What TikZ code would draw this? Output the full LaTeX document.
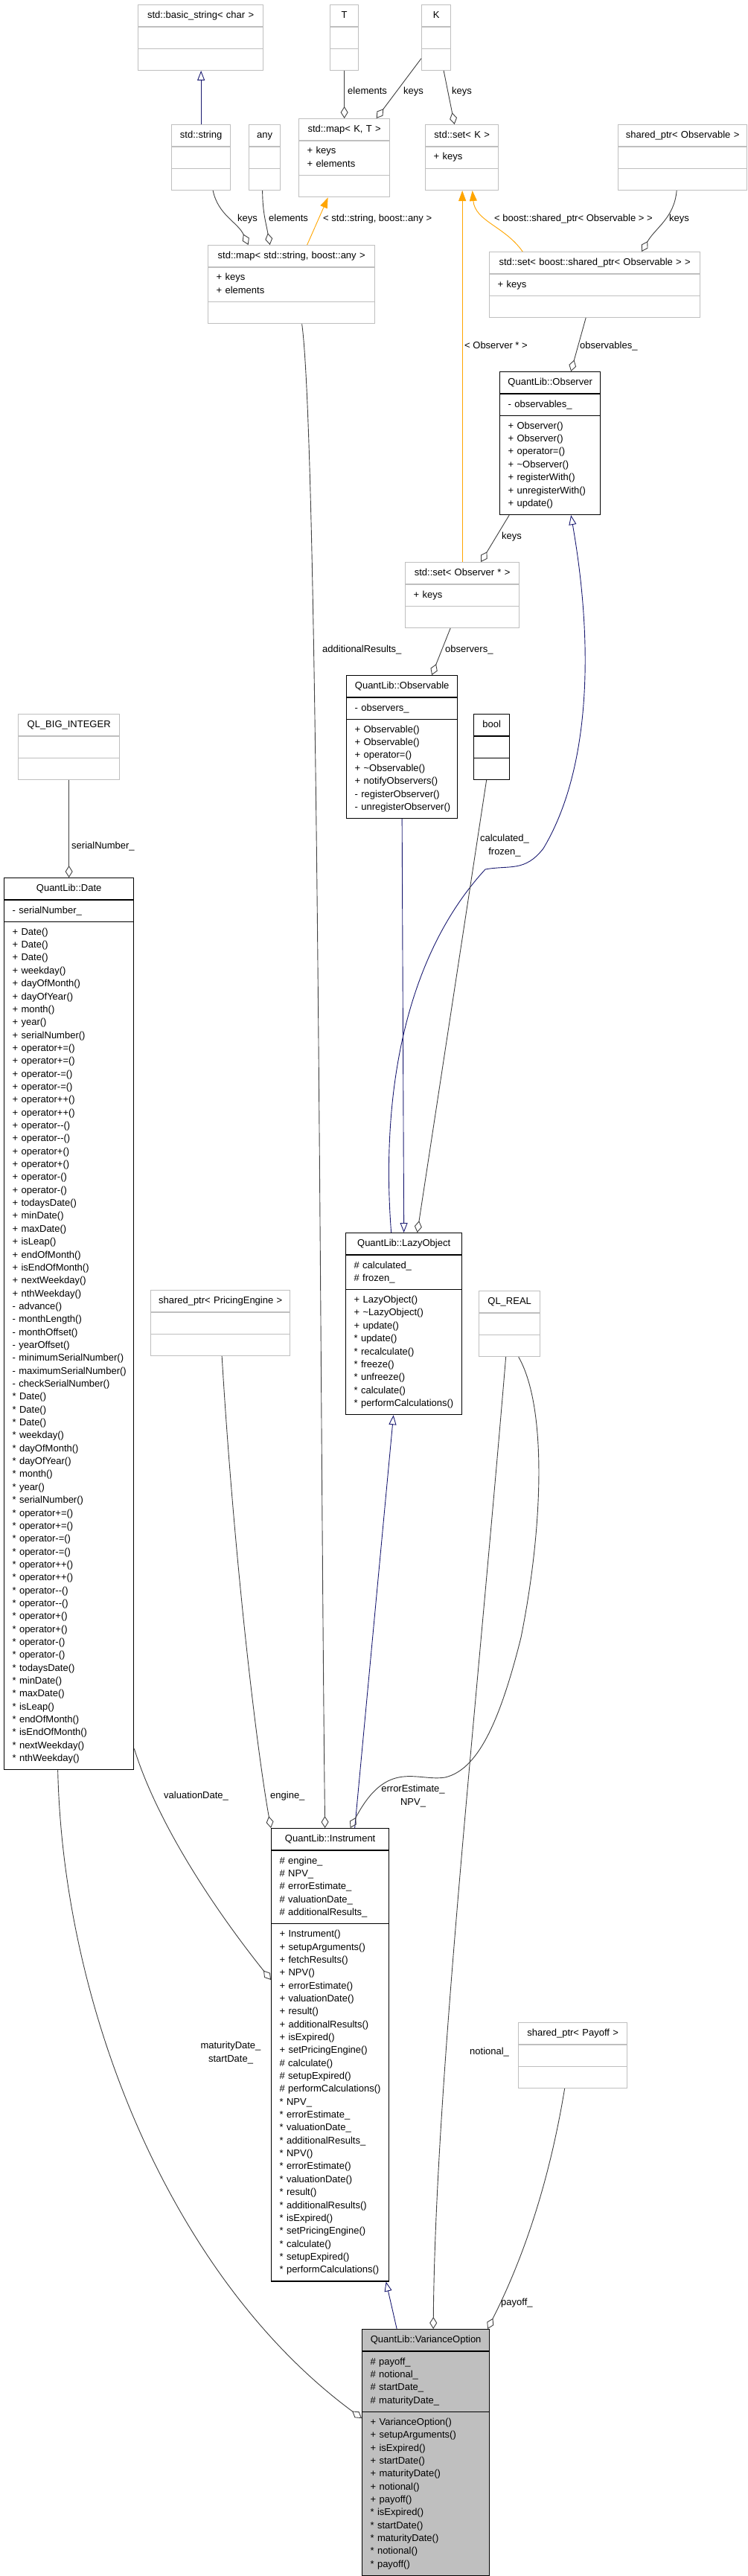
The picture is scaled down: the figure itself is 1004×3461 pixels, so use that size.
\documentclass[tikz,border=0pt]{standalone}
\usepackage{fontspec}
\setmainfont{Liberation Sans}
\usetikzlibrary{shapes.multipart, arrows.meta}
\setlength{\parindent}{0pt}

\definecolor{edgegray}{HTML}{404040}
\definecolor{inhblue}{HTML}{191970}
\definecolor{tmplorange}{HTML}{FFA500}
\definecolor{boxgray}{HTML}{BFBFBF}
\definecolor{fillgray}{HTML}{BFBFBF}

% class box parts
\newcommand\ctitle[1]{\centering\strut\mbox{#1}\par}
\newcommand\cmembers[1]{\leftskip=11pt\relax\rightskip=0pt plus 1fil\relax\strut#1\strut\par}
\newcommand\nextm{\\\relax}
\newcommand\datemethods[1]{#1 Date()\nextm #1 Date()\nextm #1 Date()\nextm #1 weekday()\nextm
  #1 dayOfMonth()\nextm #1 dayOfYear()\nextm #1 month()\nextm #1 year()\nextm #1 serialNumber()\nextm
  #1 operator+=()\nextm #1 operator+=()\nextm #1 operator-=()\nextm #1 operator-=()\nextm
  #1 operator++()\nextm #1 operator++()\nextm #1 operator-{}-()\nextm #1 operator-{}-()\nextm
  #1 operator+()\nextm #1 operator+()\nextm #1 operator-()\nextm #1 operator-()\nextm
  #1 todaysDate()\nextm #1 minDate()\nextm #1 maxDate()\nextm #1 isLeap()\nextm #1 endOfMonth()\nextm
  #1 isEndOfMonth()\nextm #1 nextWeekday()\nextm #1 nthWeekday()}

\begin{document}
\begin{tikzpicture}[x=1pt, y=-1pt,
    font=\fontsize{13pt}{17.35pt}\selectfont,
    cls/.style={rectangle split, rectangle split parts=3, anchor=north west,
      inner xsep=0pt, inner ysep=5.3pt, line width=1.3pt},
    extcls/.style={cls, draw=boxgray},
    qlcls/.style={cls, draw=black},
    agg/.style={draw=edgegray, line width=0.9pt, -{Diamond[open, length=16pt, width=10pt]}},
    inh/.style={draw=inhblue, line width=0.9pt, -{Triangle[open, length=13pt, width=10pt]}},
    tmpl/.style={draw=tmplorange, line width=0.9pt, -{Triangle[length=14pt, width=10pt]}},
    lbl/.style={inner sep=0pt, anchor=west, text height=9.4pt, text depth=2.7pt},
    lbl2/.style={inner sep=0pt, align=center}]

  \useasboundingbox (0,0) rectangle (1004,3461);

  % top row
  \node[extcls, text width=168pt] (basic) at (185,6)
    {\ctitle{std::basic\_string< char >}\nodepart{two}\strut\nodepart{three}\strut};
  \node[extcls, text width=38pt] (T) at (443,6)
    {\ctitle{T}\nodepart{two}\strut\nodepart{three}\strut};
  \node[extcls, text width=39pt] (K) at (566,6)
    {\ctitle{K}\nodepart{two}\strut\nodepart{three}\strut};

  \node[extcls, text width=79pt] (string) at (230,167)
    {\ctitle{std::string}\nodepart{two}\strut\nodepart{three}\strut};
  \node[extcls, text width=42pt] (any) at (334,167)
    {\ctitle{any}\nodepart{two}\strut\nodepart{three}\strut};
  \node[extcls, text width=122pt] (mapKT) at (401,159)
    {\ctitle{std::map< K, T >}\nodepart{two}\cmembers{+ keys\nextm + elements}\nodepart{three}\strut};
  \node[extcls, text width=98pt] (setK) at (571,167)
    {\ctitle{std::set< K >}\nodepart{two}\cmembers{+ keys}\nodepart{three}\strut};
  \node[extcls, text width=173pt] (spObs) at (830,167)
    {\ctitle{shared\_ptr< Observable >}\nodepart{two}\strut\nodepart{three}\strut};

  \node[extcls, text width=224pt] (mapSA) at (279,329)
    {\ctitle{std::map< std::string, boost::any >}\nodepart{two}\cmembers{+ keys\nextm + elements}\nodepart{three}\strut};
  \node[extcls, text width=283pt] (setSP) at (657,338)
    {\ctitle{std::set< boost::shared\_ptr< Observable > >}\nodepart{two}\cmembers{+ keys}\nodepart{three}\strut};

  \node[qlcls, text width=135pt] (observer) at (671,499)
    {\ctitle{QuantLib::Observer}\nodepart{two}\cmembers{- observables\_}
     \nodepart{three}\cmembers{+ Observer()\nextm + Observer()\nextm + operator=()\nextm
       + \textasciitilde Observer()\nextm + registerWith()\nextm + unregisterWith()\nextm + update()}};
  \node[extcls, text width=153pt] (setObs) at (544,755)
    {\ctitle{std::set< Observer * >}\nodepart{two}\cmembers{+ keys}\nodepart{three}\strut};

  \node[qlcls, text width=149pt] (observable) at (465,907)
    {\ctitle{QuantLib::Observable}\nodepart{two}\cmembers{- observers\_}
     \nodepart{three}\cmembers{+ Observable()\nextm + Observable()\nextm + operator=()\nextm
       + \textasciitilde Observable()\nextm + notifyObservers()\nextm - registerObserver()\nextm
       - unregisterObserver()}};
  \node[qlcls, text width=48pt] (bool) at (636,959)
    {\ctitle{bool}\nodepart{two}\strut\nodepart{three}\strut};
  \node[extcls, text width=136pt] (qlbig) at (24,959)
    {\ctitle{QL\_BIG\_INTEGER}\nodepart{two}\strut\nodepart{three}\strut};

  \node[qlcls, text width=174pt] (date) at (5,1179)
    {\ctitle{QuantLib::Date}\nodepart{two}\cmembers{- serialNumber\_}
     \nodepart{three}\cmembers{\datemethods{+}\nextm - advance()\nextm - monthLength()\nextm
       - monthOffset()\nextm - yearOffset()\nextm - minimumSerialNumber()\nextm
       - maximumSerialNumber()\nextm - checkSerialNumber()\nextm \datemethods{*}}};

  \node[qlcls, text width=156pt] (lazy) at (464,1656)
    {\ctitle{QuantLib::LazyObject}\nodepart{two}\cmembers{\# calculated\_\nextm \# frozen\_}
     \nodepart{three}\cmembers{+ LazyObject()\nextm + \textasciitilde LazyObject()\nextm + update()\nextm
       * update()\nextm * recalculate()\nextm * freeze()\nextm * unfreeze()\nextm * calculate()\nextm
       * performCalculations()}};
  \node[extcls, text width=187pt] (engine) at (202,1733)
    {\ctitle{shared\_ptr< PricingEngine >}\nodepart{two}\strut\nodepart{three}\strut};
  \node[extcls, text width=82pt] (qlreal) at (643,1734)
    {\ctitle{QL\_REAL}\nodepart{two}\strut\nodepart{three}\strut};

  \node[qlcls, text width=158pt] (inst) at (364,2456)
    {\ctitle{QuantLib::Instrument}
     \nodepart{two}\cmembers{\# engine\_\nextm \# NPV\_\nextm \# errorEstimate\_\nextm
       \# valuationDate\_\nextm \# additionalResults\_}
     \nodepart{three}\cmembers{+ Instrument()\nextm + setupArguments()\nextm + fetchResults()\nextm
       + NPV()\nextm + errorEstimate()\nextm + valuationDate()\nextm + result()\nextm
       + additionalResults()\nextm + isExpired()\nextm + setPricingEngine()\nextm
       \# calculate()\nextm \# setupExpired()\nextm \# performCalculations()\nextm
       * NPV\_\nextm * errorEstimate\_\nextm * valuationDate\_\nextm * additionalResults\_\nextm
       * NPV()\nextm * errorEstimate()\nextm * valuationDate()\nextm * result()\nextm
       * additionalResults()\nextm * isExpired()\nextm * setPricingEngine()\nextm
       * calculate()\nextm * setupExpired()\nextm * performCalculations()}};
  \node[extcls, text width=146pt] (payoff) at (696,2717)
    {\ctitle{shared\_ptr< Payoff >}\nodepart{two}\strut\nodepart{three}\strut};

  \node[qlcls, fill=fillgray, text width=171pt] (varopt) at (486,3129)
    {\ctitle{QuantLib::VarianceOption}
     \nodepart{two}\cmembers{\# payoff\_\nextm \# notional\_\nextm \# startDate\_\nextm \# maturityDate\_}
     \nodepart{three}\cmembers{+ VarianceOption()\nextm + setupArguments()\nextm + isExpired()\nextm
       + startDate()\nextm + maturityDate()\nextm + notional()\nextm + payoff()\nextm
       * isExpired()\nextm * startDate()\nextm * maturityDate()\nextm * notional()\nextm * payoff()}};

  % inheritance
  \draw[inh] (string.north) -- (string.north |- basic.south);
  \draw[inh] (observable.south) -- (lazy.north);
  \draw[inh] ([xshift=-17pt]lazy.north) .. controls (512,1480) and (540,1290) .. (652,1168)
    .. controls (685,1162) and (705,1172) .. (730,1140)
    .. controls (790,1040) and (800,880) .. ([xshift=28pt]observer.south);
  \draw[inh] ([xshift=33pt]inst.north) -- ([xshift=-14pt]lazy.south);
  \draw[inh] ([xshift=-39pt]varopt.north) -- ([xshift=75pt]inst.south);

  % template instances
  \draw[tmpl] ([xshift=21pt]mapSA.north) -- ([xshift=-22pt]mapKT.south);
  \draw[tmpl] ([xshift=-97pt]setSP.north) to[out=125, in=-85] ([xshift=14pt]setK.south);
  \draw[tmpl] (setObs.north) -- (setObs.north |- setK.south);

  % members
  \draw[agg] (T.south) -- (mapKT.north);
  \draw[agg] ([yshift=-28pt]K.west) -- ([xshift=43pt]mapKT.north);
  \draw[agg] ([xshift=10pt]K.south) -- ([xshift=-10pt]setK.north);
  \draw[agg] ([xshift=16pt]string.south) to[out=-78, in=115] ([xshift=-58pt]mapSA.north);
  \draw[agg] ([xshift=-3pt]any.south) to[out=-90, in=100] ([xshift=-29pt]mapSA.north);
  \draw[agg] ([xshift=-8pt]spObs.south) to[out=-95, in=60] ([xshift=63pt]setSP.north);
  \draw[agg] ([xshift=-12pt]setSP.south) -- ([xshift=28pt]observer.north);
  \draw[agg] ([xshift=-55pt]observer.south) -- ([xshift=25pt]setObs.north);
  \draw[agg] ([xshift=-16pt]setObs.south) -- ([xshift=40pt]observable.north);
  \draw[agg] ([xshift=14pt]mapSA.south) .. controls (428,600) and (430,1900) .. ([xshift=-7pt]inst.north);
  \draw[agg] ([xshift=-7pt]bool.south) -- ([xshift=18pt]lazy.north);
  \draw[agg] (qlbig.south) -- (date.north);
  \draw[agg] ([xshift=2pt]engine.south) .. controls (315,2100) and (345,2350) .. (inst.north west);
  \draw[agg] ([xshift=12pt]qlreal.south) .. controls (735,1890) and (730,2050) .. (700,2200)
    .. controls (670,2320) and (640,2378) .. (598,2388)
    .. controls (560,2394) and (520,2362) .. ([xshift=27pt]inst.north);
  \draw[agg] ([xshift=-5pt]qlreal.south) .. controls (640,2300) and (585,2800) .. ([xshift=10pt]varopt.north);
  \draw[agg] ([yshift=29pt]date.south east) .. controls (215,2460) and (300,2580) .. ([yshift=-204pt]inst.north west);
  \draw[agg] ([xshift=-15pt]date.south) .. controls (85,2700) and (230,3060) .. ([yshift=-120pt]varopt.north west);
  \draw[agg] ([xshift=-11pt]payoff.south) .. controls (735,2950) and (695,3050) .. ([xshift=83pt]varopt.north);

  % labels
  \node[lbl] (l-telem) at (467,123) {elements};
  \node[lbl] (l-kmap) at (542,123) {keys};
  \node[lbl] (l-kset) at (607,123) {keys};
  \node[lbl] (l-skeys) at (319,294) {keys};
  \node[lbl] (l-aelem) at (361,294) {elements};
  \node[lbl] (l-tsa) at (434,294) {< std::string, boost::any >};
  \node[lbl] (l-tsp) at (664,294) {< boost::shared\_ptr< Observable > >};
  \node[lbl] (l-spkeys) at (899,294) {keys};
  \node[lbl] (l-tobs) at (624,465) {< Observer * >};
  \node[lbl] (l-obsv) at (779,465) {observables\_};
  \node[lbl] (l-okeys) at (674,721) {keys};
  \node[lbl] (l-addres) at (433,873) {additionalResults\_};
  \node[lbl] (l-observers) at (598,873) {observers\_};
  \node[lbl2] (l-calc) at (678,1136) {calculated\_\\frozen\_};
  \node[lbl] (l-serial) at (96,1137) {serialNumber\_};
  \node[lbl] (l-valdate) at (220,2413) {valuationDate\_};
  \node[lbl] (l-engine) at (363,2413) {engine\_};
  \node[lbl2] (l-npv) at (555,2413) {errorEstimate\_\\NPV\_};
  \node[lbl2] (l-dates) at (310,2758) {maturityDate\_\\startDate\_};
  \node[lbl] (l-notional) at (631,2757) {notional\_};
  \node[lbl] (l-payoff) at (673,3094) {payoff\_};

\end{tikzpicture}
\end{document}
